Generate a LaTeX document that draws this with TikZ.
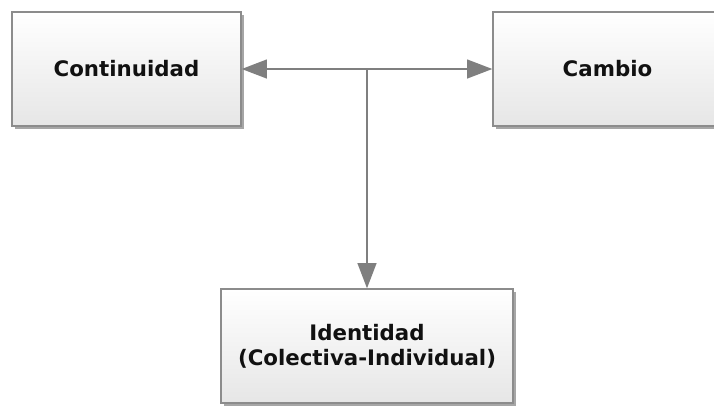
\documentclass[tikz,border=0pt]{standalone}
\usepackage{fontspec}
\setmainfont{DejaVu Sans}
\usetikzlibrary{shadows,arrows.meta}
\definecolor{Ink}{HTML}{111111}
\definecolor{EdgeGray}{HTML}{8C8C8C}
\definecolor{ArrowGray}{HTML}{7F7F7F}
\definecolor{BoxBottom}{HTML}{E6E6E6}

\begin{document}
\begin{tikzpicture}[x=0.75pt,y=-0.75pt,font=\fontsize{16}{19}\selectfont\bfseries,
    >={Triangle[length=19pt,width=14pt]},
    box/.style={draw=EdgeGray,line width=0.9pt,top color=white,bottom color=BoxBottom,
      minimum height=85.5pt,text=Ink,align=center,
      drop shadow={shadow xshift=2.5pt,shadow yshift=-2.5pt,fill=black,opacity=0.35}},
    link/.style={draw=ArrowGray,fill=ArrowGray,line width=1.8pt}]
  \useasboundingbox (0,0) rectangle (714,405);
  \node[box,minimum width=171.75pt] (continuidad) at (126.5,69) {Continuidad};
  \node[box,minimum width=171.75pt] (cambio) at (607.5,69) {Cambio};
  \node[box,minimum width=219pt] (identidad) at (367,346) {Identidad\\(Colectiva-Individual)};
  \coordinate (junction) at (continuidad.east -| identidad.north);
  \draw[link,<->] (continuidad.east) -- (cambio.west);
  \draw[link,->] (junction) -- (identidad.north);
\end{tikzpicture}
\end{document}
